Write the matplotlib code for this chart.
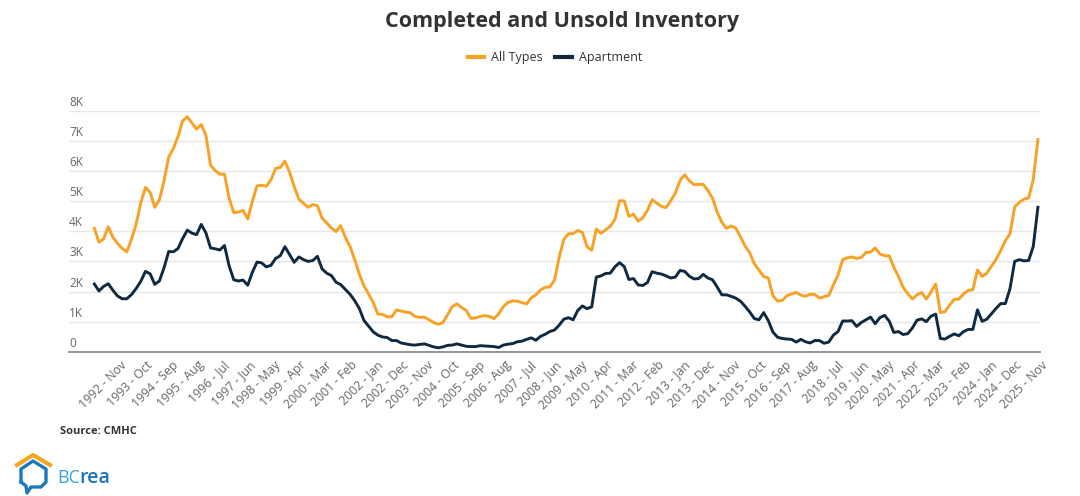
import pandas as pd
import matplotlib.pyplot as plt
import matplotlib.transforms as mtransforms
from matplotlib.lines import Line2D

plt.rcParams['font.family'] = ['Open Sans', 'DejaVu Sans']

# bi-monthly readings (Jan, Mar, May, Jul, Sep, Nov), thousands of units
dates = pd.date_range("1992-01-01", "2025-11-01", freq="2MS")

all_types = [
    4.10, 3.64, 3.75, 4.15, 3.80, 3.60,  # 1992
    3.43, 3.32, 3.74, 4.24, 4.95, 5.46,
    5.30, 4.80, 5.05, 5.68, 6.47, 6.75,
    7.15, 7.67, 7.81, 7.60, 7.40, 7.55,
    7.20, 6.20, 6.02, 5.90, 5.90, 5.10,
    4.62, 4.64, 4.70, 4.41, 5.00, 5.51,
    5.53, 5.50, 5.71, 6.09, 6.12, 6.33,
    5.97, 5.49, 5.07, 4.93, 4.80, 4.89,
    4.85, 4.44, 4.28, 4.11, 3.99, 4.19,  # 2000
    3.80, 3.50, 3.07, 2.58, 2.19, 1.92,
    1.63, 1.25, 1.24, 1.16, 1.16, 1.39,
    1.35, 1.32, 1.29, 1.17, 1.14, 1.15,
    1.06, 0.97, 0.91, 0.97, 1.23, 1.50,
    1.59, 1.47, 1.37, 1.11, 1.12, 1.17,
    1.20, 1.17, 1.10, 1.26, 1.50, 1.64,
    1.69, 1.68, 1.63, 1.59, 1.79, 1.89,
    2.05, 2.14, 2.15, 2.38, 3.13, 3.73,
    3.92, 3.92, 4.03, 3.96, 3.49, 3.37,
    4.08, 3.93, 4.05, 4.17, 4.39, 5.02,  # 2010
    5.01, 4.50, 4.57, 4.34, 4.45, 4.70,
    5.05, 4.94, 4.83, 4.79, 5.02, 5.27,
    5.69, 5.88, 5.68, 5.55, 5.56, 5.56,
    5.36, 5.10, 4.64, 4.30, 4.10, 4.18,
    4.11, 3.82, 3.51, 3.29, 2.92, 2.71,
    2.50, 2.45, 1.86, 1.68, 1.70, 1.86,
    1.92, 1.97, 1.88, 1.84, 1.91, 1.90,
    1.78, 1.83, 1.87, 2.22, 2.55, 3.06,
    3.12, 3.15, 3.10, 3.13, 3.30, 3.31,
    3.45, 3.25, 3.19, 3.19, 2.80, 2.50,  # 2020
    2.14, 1.93, 1.75, 1.89, 1.97, 1.75,
    1.98, 2.25, 1.30, 1.33, 1.55, 1.74,
    1.75, 1.92, 2.04, 2.06, 2.72, 2.50,
    2.61, 2.84, 3.07, 3.36, 3.69, 3.92,
    4.81, 4.96, 5.07, 5.11, 5.72, 7.05,  # 2025
]

apartment = [
    2.25, 2.02, 2.17, 2.26, 2.04, 1.85,  # 1992
    1.76, 1.76, 1.90, 2.10, 2.34, 2.67,
    2.59, 2.24, 2.35, 2.79, 3.33, 3.32,
    3.43, 3.76, 4.04, 3.94, 3.89, 4.23,
    3.95, 3.45, 3.42, 3.38, 3.53, 2.85,
    2.39, 2.35, 2.38, 2.21, 2.64, 2.98,
    2.95, 2.82, 2.87, 3.10, 3.19, 3.49,
    3.23, 2.97, 3.15, 3.06, 3.00, 3.03,
    3.17, 2.75, 2.61, 2.53, 2.31, 2.23,  # 2000
    2.07, 1.91, 1.70, 1.44, 1.04, 0.85,
    0.66, 0.55, 0.49, 0.47, 0.37, 0.37,
    0.29, 0.26, 0.23, 0.22, 0.24, 0.26,
    0.21, 0.16, 0.13, 0.16, 0.21, 0.22,
    0.26, 0.22, 0.18, 0.17, 0.17, 0.20,
    0.19, 0.18, 0.17, 0.14, 0.22, 0.25,
    0.27, 0.33, 0.35, 0.41, 0.46, 0.38,
    0.51, 0.58, 0.67, 0.72, 0.88, 1.08,
    1.13, 1.06, 1.37, 1.52, 1.43, 1.49,
    2.48, 2.52, 2.60, 2.61, 2.82, 2.96,  # 2010
    2.83, 2.40, 2.43, 2.22, 2.20, 2.30,
    2.66, 2.61, 2.58, 2.52, 2.45, 2.48,
    2.70, 2.67, 2.51, 2.42, 2.43, 2.57,
    2.45, 2.39, 2.15, 1.89, 1.89, 1.84,
    1.78, 1.68, 1.51, 1.32, 1.10, 1.06,
    1.30, 1.03, 0.65, 0.48, 0.44, 0.42,
    0.41, 0.32, 0.41, 0.33, 0.29, 0.37,
    0.37, 0.28, 0.32, 0.55, 0.67, 1.02,
    1.02, 1.03, 0.84, 0.97, 1.06, 1.15,
    0.93, 1.13, 1.21, 1.02, 0.64, 0.67,  # 2020
    0.57, 0.60, 0.79, 1.05, 1.09, 1.00,
    1.18, 1.25, 0.44, 0.42, 0.51, 0.59,
    0.53, 0.67, 0.74, 0.74, 1.39, 1.01,
    1.08, 1.26, 1.44, 1.60, 1.60, 2.10,
    3.00, 3.06, 3.02, 3.03, 3.50, 4.80,  # 2025
]

# axis labels every 11 months
tick_dates = pd.date_range("1992-11-01", "2025-11-01", freq="11MS")
y_ticks = list(range(0, 9))

ORANGE = "#F7A125"
NAVY = "#0E2A40"


def month_no(d):
    # monthly category index, Dec 1991 = 0
    return (d.year - 1991) * 12 + d.month - 12


W, H = 1080, 496
fig = plt.figure(figsize=(W / 100, H / 100), dpi=100)
ax = fig.add_axes([69 / W, 1 - 351.7 / H, 971 / W, 240.7 / H])

x = [month_no(d) for d in dates]
ax.plot(x, all_types, color=ORANGE, lw=2.1, label="All Types", clip_on=False)
ax.plot(x, apartment, color=NAVY, lw=2.1, label="Apartment", clip_on=False)

ax.set_xlim(-9.9, 407.9)
ax.set_ylim(0, 8)

ax.set_yticks(y_ticks)
ax.set_yticklabels([])
ax.tick_params(axis='y', length=0)
ax.grid(axis='y', color='#e6e6e6', lw=1)
ax.set_axisbelow(True)
for s in ['top', 'right', 'left']:
    ax.spines[s].set_visible(False)
ax.spines['bottom'].set_color('#8c8c8c')
ax.spines['bottom'].set_linewidth(1.3)

ytrans = ax.get_yaxis_transform() + mtransforms.ScaledTranslation(0, 0.05, fig.dpi_scale_trans)
for v in y_ticks:
    ax.text(0, v, "0" if v == 0 else f"{v}K", transform=ytrans,
            ha='left', va='baseline', fontsize=8.5, color='#666666')

ax.set_xticks([month_no(d) for d in tick_dates])
ax.set_xticklabels([f"{d.year} - {d.strftime('%b')}" for d in tick_dates],
                   rotation=45, ha='right', rotation_mode='anchor',
                   fontsize=8.8, color='#666666')
ax.tick_params(axis='x', length=0, pad=5)
shift = mtransforms.ScaledTranslation(0.03, 0, fig.dpi_scale_trans)
for lbl in ax.get_xticklabels():
    lbl.set_transform(lbl.get_transform() + shift)

fig.text(562 / W, 1 - 22 / H, "Completed and Unsold Inventory", ha='center', va='center',
         fontsize=15.5, fontweight='bold', color='#333333')

leg = fig.legend(loc='center', bbox_to_anchor=(555 / W, 1 - 58 / H), ncol=2, frameon=False,
                 fontsize=9, handlelength=1.3, handletextpad=0.6, columnspacing=1.0,
                 labelcolor='#333333')
for h in leg.get_lines():
    h.set_linewidth(3)

fig.text(60 / W, 1 - 431 / H, "Source: CMHC", ha='left', va='center',
         fontsize=8, fontweight='bold', color='#333333')


# BCREA logo, rough
def fxy(pts):
    return [p[0] / W for p in pts], [1 - p[1] / H for p in pts]


roof = fxy([(17, 465), (33, 455), (50, 465)])
fig.add_artist(Line2D(*roof, color="#F6A623", lw=3, transform=fig.transFigure))
house = fxy([(21, 482), (21, 469), (33, 461), (46, 469), (46, 482), (41, 487),
             (31, 487), (27, 493), (26, 486), (21, 482)])
fig.add_artist(Line2D(*house, color="#1B79BE", lw=2.4, transform=fig.transFigure,
                      solid_joinstyle='round'))
fig.text(57 / W, 1 - 478 / H, "BC", ha='left', va='center', fontsize=13, color="#3AA3DC")
fig.text(79 / W, 1 - 478 / H, "rea", ha='left', va='center', fontsize=14,
         fontweight='semibold', color="#1C74B9")

fig.savefig("out.png", dpi=100)
